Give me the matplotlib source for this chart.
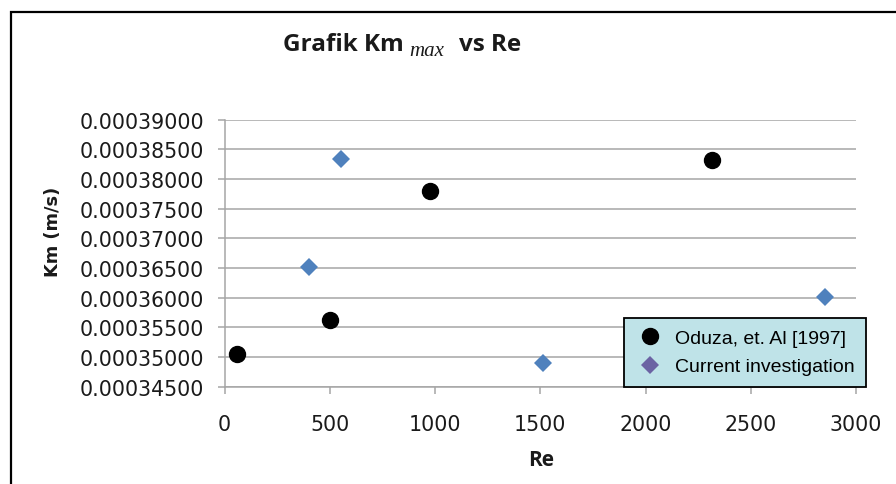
import matplotlib
matplotlib.use("Agg")
import matplotlib.pyplot as plt
from matplotlib.lines import Line2D
from matplotlib.patches import Rectangle

# data
oduza_re = [57, 502, 977, 2315]
oduza_km = [0.0003505, 0.0003562, 0.0003779, 0.0003832]
current_re = [402, 554, 1512, 2853]
current_km = [0.0003651, 0.0003833, 0.0003490, 0.0003602]

y_ticks = [0.000345, 0.00035, 0.000355, 0.00036, 0.000365,
           0.00037, 0.000375, 0.00038, 0.000385, 0.00039]
x_ticks = [0, 500, 1000, 1500, 2000, 2500, 3000]

W, H = 896, 485
fig = plt.figure(figsize=(W / 100, H / 100), dpi=100)
fig.patch.set_facecolor("white")


def px(x, y):
    # pixel (from top-left) -> figure fraction
    return x / W, 1 - y / H


# outer chart frame (right and bottom run off the picture)
fx0, fy_top = px(10.5, 13)
fig.patches.append(Rectangle((fx0, -0.1), 1.2, fy_top + 0.1,
                             transform=fig.transFigure, fill=False,
                             edgecolor="black", linewidth=1.6))

left, top = px(224.6, 120.7)
right, bottom = px(856, 387.7)
ax = fig.add_axes([left, bottom, right - left, top - bottom])

grid_col = "#A6A6A6"
ax.set_xlim(0, 3000)
ax.set_ylim(0.000345, 0.00039)
ax.set_yticks(y_ticks)
ax.set_xticks(x_ticks)
ax.set_yticklabels(["%.8f" % v for v in y_ticks])
ax.set_xticklabels([str(v) for v in x_ticks])
ax.yaxis.grid(True, color=grid_col, linewidth=1.1)
ax.set_axisbelow(True)
for s in ("top", "right"):
    ax.spines[s].set_visible(False)
for s in ("left", "bottom"):
    ax.spines[s].set_color(grid_col)
    ax.spines[s].set_linewidth(1.1)
ax.tick_params(axis="both", color=grid_col, length=5, width=1.1,
               labelsize=14.8, labelcolor="#1a1a1a")
ax.tick_params(axis="y", pad=10)
ax.tick_params(axis="x", pad=15)

ax.plot(oduza_re, oduza_km, "o", color="black", markersize=11.5,
        linestyle="none", clip_on=False)
ax.plot(current_re, current_km, "D", color="#4F81BD", markersize=9,
        markeredgewidth=0, linestyle="none", clip_on=False)

handles = [
    Line2D([], [], marker="o", color="black", linestyle="none", markersize=11.5),
    Line2D([], [], marker="D", color="#6B63A3", markeredgewidth=0,
           linestyle="none", markersize=9),
]
leg = fig.legend(handles, ["Oduza, et. Al [1997]", "Current investigation"],
                 loc="lower right", bbox_to_anchor=px(866, 388),
                 bbox_transform=fig.transFigure, borderaxespad=0,
                 prop={"family": "Liberation Sans", "size": 14},
                 frameon=True, fancybox=False, borderpad=0.6,
                 handlelength=1.5, handletextpad=0.5, labelspacing=0.55)
leg.get_frame().set_facecolor("#BFE3E8")
leg.get_frame().set_edgecolor("black")
leg.get_frame().set_linewidth(1.3)
leg.get_frame().set_alpha(1)

# title: bold text with an italic serif subscript
fig.text(*px(283, 45), "Grafik Km", ha="left", va="center",
         fontsize=17.5, fontweight="bold", family="Open Sans", color="#1a1a1a")
fig.text(*px(409, 52), "max", ha="left", va="center",
         fontsize=15, style="italic", family="Liberation Serif", color="#1a1a1a")
fig.text(*px(459, 45), "vs Re", ha="left", va="center",
         fontsize=17.5, fontweight="bold", family="Open Sans", color="#1a1a1a")

fig.text(*px(53, 232), "Km (m/s)", rotation=90, ha="center", va="center",
         fontsize=12.8, fontweight="bold", color="#1a1a1a")
fig.text(*px(541, 461), "Re", ha="center", va="center",
         fontsize=15, fontweight="bold", family="Open Sans", color="#1a1a1a")

fig.savefig("out.png", dpi=100)
